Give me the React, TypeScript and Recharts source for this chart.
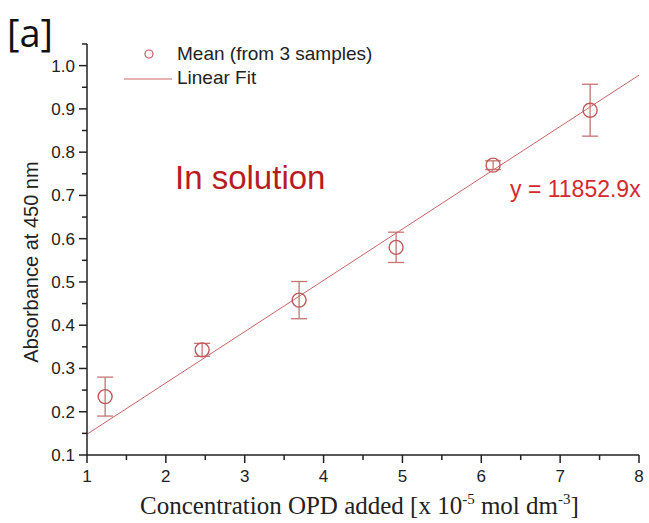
import React from "react";
import { ComposedChart, Scatter, Line, XAxis, YAxis, ErrorBar } from "recharts";

// concentration [x 10^-5 mol dm^-3]
const concentrations = [1.23, 2.46, 3.69, 4.92, 6.15, 7.38];
// mean absorbance at 450 nm and its error
const absorbance = [0.235, 0.343, 0.458, 0.58, 0.77, 0.897];
const absError = [0.045, 0.015, 0.043, 0.035, 0.01, 0.06];

// linear fit ends
const fitX = [1, 8];
const fitY = [0.148, 0.978];

const xTicks = [1, 1.5, 2, 2.5, 3, 3.5, 4, 4.5, 5, 5.5, 6, 6.5, 7, 7.5, 8];
const yTicks = [0.1, 0.15, 0.2, 0.25, 0.3, 0.35, 0.4, 0.45, 0.5, 0.55, 0.6, 0.65, 0.7, 0.75, 0.8, 0.85, 0.9, 0.95, 1.0, 1.05];

const meanData = concentrations.map((x, i) => ({ x, y: absorbance[i], err: absError[i] }));
const fitData = fitX.map((x, i) => ({ x, y: fitY[i] }));

const AXIS = "#222";
const MARK = "#c0585a";
const SANS = "Liberation Sans, Arial, sans-serif";

const isMajor = (v: number) => Math.abs(v - Math.round(v)) < 1e-6;

const XTick = (props: any) => {
  const { x, y, payload } = props;
  const v = payload.value as number;
  const major = isMajor(v);
  return (
    <g>
      <line x1={x} x2={x} y1={y} y2={y + (major ? 8 : 5)} stroke={AXIS} strokeWidth={1.5} />
      {major && (
        <text x={x} y={y + 27} textAnchor="middle" fontSize={17} fontFamily={SANS} fill={AXIS}>
          {v}
        </text>
      )}
    </g>
  );
};

const YTick = (props: any) => {
  const { x, y, payload } = props;
  const v = payload.value as number;
  const major = Math.round(v * 100) % 10 === 0;
  return (
    <g>
      <line x1={x - (major ? 8 : 5)} x2={x} y1={y} y2={y} stroke={AXIS} strokeWidth={1.5} />
      {major && (
        <text x={x - 12} y={y + 6} textAnchor="end" fontSize={17} fontFamily={SANS} fill={AXIS}>
          {v.toFixed(1)}
        </text>
      )}
    </g>
  );
};

const OpenCircle = (props: any) => {
  const { cx, cy } = props;
  return <circle cx={cx} cy={cy} r={7} fill="#fff" fillOpacity={0} stroke={MARK} strokeWidth={1.4} />;
};

export default function App() {
  return (
    <div style={{ position: "absolute", left: 0, top: 0, width: 649, height: 523, background: "#fff" }}>
      <ComposedChart width={649} height={523} margin={{ top: 44, right: 10, left: 0, bottom: 0 }}>
        <XAxis
          type="number"
          dataKey="x"
          domain={[1, 8]}
          ticks={xTicks}
          interval={0}
          tick={<XTick />}
          tickLine={false}
          tickSize={0}
          tickMargin={0}
          height={68}
          axisLine={{ stroke: AXIS, strokeWidth: 1.5 }}
          allowDataOverflow
        />
        <YAxis
          type="number"
          dataKey="y"
          domain={[0.1, 1.05]}
          ticks={yTicks}
          interval={0}
          tick={<YTick />}
          tickLine={false}
          tickSize={0}
          tickMargin={0}
          width={87}
          axisLine={{ stroke: AXIS, strokeWidth: 1.5 }}
          allowDataOverflow
        />
        <Line
          data={fitData}
          dataKey="y"
          type="linear"
          stroke="#c86464"
          strokeWidth={1}
          dot={false}
          activeDot={false}
          isAnimationActive={false}
        />
        <Scatter data={meanData} dataKey="y" shape={<OpenCircle />} isAnimationActive={false}>
          <ErrorBar dataKey="err" direction="y" width={8} stroke="#c87272" strokeWidth={1.3} />
        </Scatter>
      </ComposedChart>
      <svg width={649} height={523} style={{ position: "absolute", left: 0, top: 0, pointerEvents: "none" }}>
        <text x={7} y={47} fontSize={38} fontFamily="Open Sans, sans-serif" fill="#111">
          [a]
        </text>
        <circle cx={149} cy={54} r={4} fill="none" stroke={MARK} strokeWidth={1.2} />
        <text x={177} y={60} fontSize={19} fontFamily={SANS} fill="#222">
          Mean (from 3 samples)
        </text>
        <line x1={124} x2={172} y1={79} y2={79} stroke="#c86464" strokeWidth={1} />
        <text x={177} y={84} fontSize={19} fontFamily={SANS} fill="#222">
          Linear Fit
        </text>
        <text x={175} y={189} fontSize={33} fontFamily={SANS} fill="#b81c22">
          In solution
        </text>
        <text x={510} y={197} fontSize={23} fontFamily={SANS} fill="#d42a2e">
          y = 11852.9x
        </text>
        <text
          x={0}
          y={0}
          transform="translate(38,262) rotate(-90)"
          textAnchor="middle"
          fontSize={20}
          fontFamily={SANS}
          fill="#222"
        >
          Absorbance at 450 nm
        </text>
        <text x={140} y={514} fontSize={25} fontFamily="Liberation Serif, Times New Roman, serif" fill="#222">
          Concentration OPD added [x 10
          <tspan fontSize={15} dy={-10}>-5</tspan>
          <tspan dy={10}> mol dm</tspan>
          <tspan fontSize={15} dy={-10}>-3</tspan>
          <tspan dy={10}>]</tspan>
        </text>
      </svg>
    </div>
  );
}
